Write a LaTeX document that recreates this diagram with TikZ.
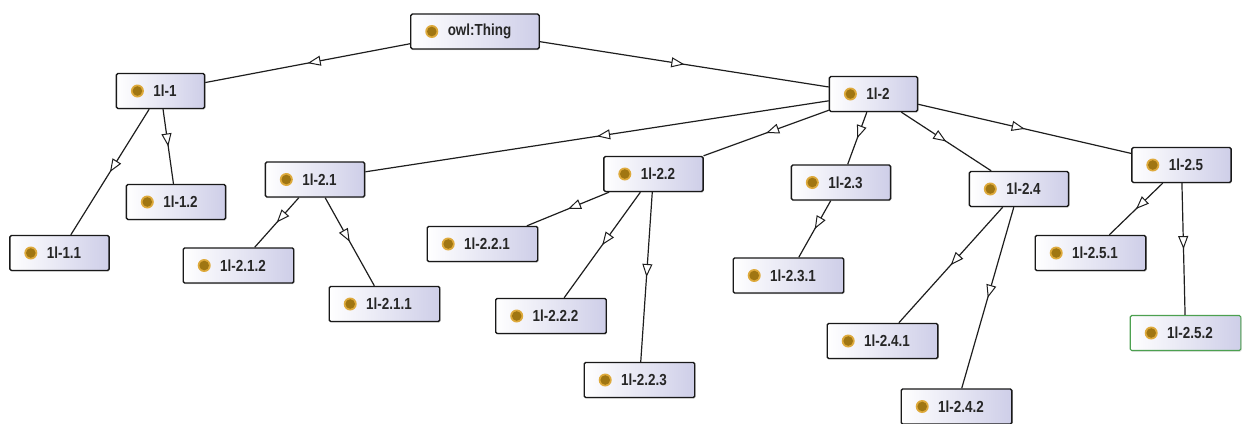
\documentclass[tikz,border=0pt]{standalone}
\usepackage{fontspec}
\setmainfont{Liberation Sans}
\usetikzlibrary{arrows.meta,decorations.markings,shadows}

\definecolor{boxlav}{RGB}{206,206,232}
\definecolor{edgec}{RGB}{30,30,30}
\definecolor{bulring}{RGB}{222,170,60}
\definecolor{bulcore}{RGB}{160,118,18}
\definecolor{selgreen}{RGB}{76,160,80}

\newcommand{\lbl}[1]{\hspace{9pt}\scalebox{0.84}[1]{#1}}

\tikzset{
  cls/.style={draw=black!90, line width=1.4pt, rounded corners=1.5pt,
    left color=white, right color=boxlav,
    minimum height=35pt, inner xsep=28pt, inner ysep=0pt,
    drop shadow={shadow xshift=0.8pt, shadow yshift=-1.2pt, opacity=0.3},
    font=\fontsize{16}{18}\selectfont\bfseries, text=black!85,
    path picture={
      \fill[bulring] ([xshift=21pt]path picture bounding box.west) circle (6.5pt);
      \fill[bulcore] ([xshift=21pt]path picture bounding box.west) circle (4.8pt);
    }},
  selcls/.style={cls, draw=selgreen, line width=1.1pt},
  isa/.style={draw=edgec, line width=1.2pt,
    postaction={decorate},
    decoration={markings, mark=at position 0.5 with
      {\arrow{Triangle[length=13pt, width=10pt, fill=white, line width=1pt]}}}}
}

\begin{document}
\begin{tikzpicture}[x=1pt, y=-1pt]
  \useasboundingbox (0,0) rectangle (1242,423);

  % classes
  \node[cls] (thing) at (475,31.5) {\lbl{owl:Thing}};
  \node[cls] (c1) at (160.5,91) {\lbl{1l-1}};
  \node[cls] (c2) at (873.5,94) {\lbl{1l-2}};

  \node[cls] (c11) at (59.5,253) {\lbl{1l-1.1}};
  \node[cls] (c12) at (176,202) {\lbl{1l-1.2}};

  \node[cls] (c21) at (315,179.5) {\lbl{1l-2.1}};
  \node[cls] (c22) at (653.5,174) {\lbl{1l-2.2}};
  \node[cls] (c23) at (841,182.5) {\lbl{1l-2.3}};
  \node[cls] (c24) at (1019,189) {\lbl{1l-2.4}};
  \node[cls] (c25) at (1181.5,165) {\lbl{1l-2.5}};

  \node[cls] (c211) at (384.5,304) {\lbl{1l-2.1.1}};
  \node[cls] (c212) at (238.5,265.5) {\lbl{1l-2.1.2}};
  \node[cls] (c221) at (482.5,244) {\lbl{1l-2.2.1}};
  \node[cls] (c222) at (551,316) {\lbl{1l-2.2.2}};
  \node[cls] (c223) at (639.5,380) {\lbl{1l-2.2.3}};
  \node[cls] (c231) at (788.5,275.5) {\lbl{1l-2.3.1}};
  \node[cls] (c241) at (882.5,341) {\lbl{1l-2.4.1}};
  \node[cls] (c242) at (956.5,406.5) {\lbl{1l-2.4.2}};
  \node[cls] (c251) at (1090.5,253) {\lbl{1l-2.5.1}};
  \node[selcls] (c252) at (1185.5,333) {\lbl{1l-2.5.2}};

  % subclass edges
  \foreach \p/\c in {thing/c1, thing/c2, c1/c11, c1/c12,
      c2/c21, c2/c22, c2/c23, c2/c24, c2/c25,
      c21/c211, c21/c212, c22/c221, c22/c222, c22/c223,
      c23/c231, c24/c241, c24/c242, c25/c251, c25/c252}
    \draw[isa] (\p) -- (\c);
\end{tikzpicture}
\end{document}
